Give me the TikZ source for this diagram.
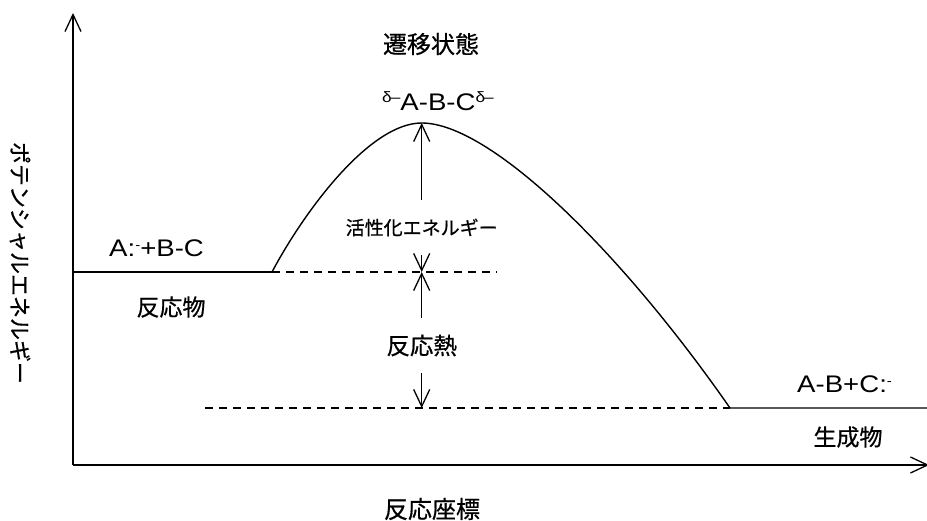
\documentclass[tikz,border=0pt]{standalone}
\usepackage{fontspec}
\setmainfont{Liberation Sans}
\newfontfamily\latin[FakeStretch=1.15]{Liberation Sans}
\newfontfamily\jp[FakeBold=0.6]{Noto Sans CJK JP}
\usetikzlibrary{arrows.meta}
\begin{document}
\begin{tikzpicture}[x=1pt,y=-1pt,
  line/.style={line width=1.4pt},
  arr/.style={line width=1.3pt,-{Straight Barb[length=17pt,width=16pt,line width=1.3pt]}},
  dash line/.style={line width=1.3pt,dash pattern=on 8pt off 6pt},
  jlab/.style={font=\jp\fontsize{23}{23}\selectfont,inner sep=0pt},
  llab/.style={font=\latin\fontsize{24}{24}\selectfont,inner sep=0pt},
  gaplab/.style={inner sep=0pt,minimum height=55pt}]
\useasboundingbox (0,0) rectangle (927,521);
% axes
\coordinate (o) at (73,465);
\coordinate (ytop) at (73,13);
\coordinate (xend) at (929,465);
\draw[arr] (o) -- (ytop);
\draw[arr] (o) -- (xend);
% levels
\coordinate (r0) at (73,272);
\coordinate (r1) at (272,272);
\coordinate (pk) at (421.7,123);
\coordinate (p0) at (730,408);
\coordinate (p1) at (927,408);
\coordinate (rd) at (497,272);
\coordinate (pd) at (205,408);
\coordinate (mr) at (421.7,272);
\coordinate (mp) at (421.7,408);
\draw[line] (r0) -- (r1);
\draw[line] (r1) .. controls (305,210) and (370,123) .. (pk)
  .. controls (490,123) and (620,250) .. (p0) -- (p1);
\draw[dash line] (r1) -- (rd);
\draw[dash line] (pd) -- (p0);
% energy arrows
\node[gaplab,font=\jp\fontsize{19}{19}\selectfont] (act) at (421.7,227.5) {活性化エネルギー};
\node[gaplab,font=\jp\fontsize{23.5}{23.5}\selectfont] (heat) at (421.7,345.5) {反応熱};
\draw[arr] (act) -- (pk);
\draw[arr] (act) -- (mr);
\draw[arr] (heat) -- (mr);
\draw[arr] (heat) -- (mp);
% labels
\node[jlab,font=\jp\fontsize{24}{24}\selectfont] (ts) at (431,44) {遷移状態};
\node[llab] (tsf) at (438,101) {\raisebox{8pt}{\fontsize{15}{15}\selectfont δ\kern-1pt\textendash}A-B-C\raisebox{8pt}{\fontsize{15}{15}\selectfont δ\kern-1pt\textendash}};
\node[llab,anchor=base west] (re) at (109,257) {A:\raisebox{7pt}{\fontsize{13}{13}\selectfont -}+B-C};
\node[jlab] (ren) at (171,307) {反応物};
\node[llab,anchor=base west] (pr) at (797,393) {A-B+C:\raisebox{7pt}{\fontsize{13}{13}\selectfont -}};
\node[jlab] (prn) at (848,437) {生成物};
\node[jlab,font=\jp\fontsize{24}{24}\selectfont] (xl) at (432,509) {反応座標};
\node[jlab,font=\jp\fontsize{22}{22}\selectfont,rotate=-90] (yl) at (20,263) {ポテンシャルエネルギー};
\end{tikzpicture}
\end{document}
